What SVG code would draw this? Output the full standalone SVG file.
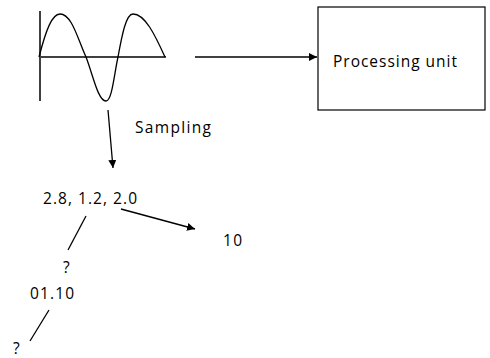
<svg xmlns="http://www.w3.org/2000/svg" width="490" height="358" viewBox="0 0 490 358">
  <style>
    .ln { stroke: #000; stroke-width: 1.3; fill: none; }
    .ax { stroke: #404040; stroke-width: 2; fill: none; }
    .tx { font-family: "Open Sans", "Liberation Sans", sans-serif; font-size: 15.5px; fill: #000; }
  </style>
  <defs>
    <marker id="ah" viewBox="0 0 10 10" refX="10" refY="5" markerWidth="8" markerHeight="8" markerUnits="userSpaceOnUse" orient="auto">
      <path d="M0,0 L10,5 L0,10 Z" fill="#000"/>
    </marker>
  </defs>

  <g id="signal">
    <line class="ax" x1="40" y1="11" x2="40" y2="101"/>
    <line class="ax" x1="39" y1="57" x2="166" y2="57"/>
    <path class="ln" d="M39,57 C46,30 52,14 60,14 C72,14 78,40 86,57 C93,75 98,101 106,101 C112,101 114,75 118,57 C122,35 126,14 133,14 C145,14 155,35 165,57"/>
  </g>

  <g id="processing-unit">
    <rect x="318" y="7" width="167" height="103" fill="#fff" stroke="#000" stroke-width="1.2"/>
    <text class="tx" x="333" y="67" textLength="124" lengthAdjust="spacing">Processing unit</text>
  </g>

  <g id="samples">
    <text class="tx" x="43" y="204" textLength="94" lengthAdjust="spacing">2.8, 1.2, 2.0</text>
  </g>
  <g id="code-10">
    <text class="tx" x="223" y="246" textLength="19" lengthAdjust="spacing">10</text>
  </g>
  <g id="q1">
    <text class="tx" x="63" y="273">?</text>
  </g>
  <g id="code-0110">
    <text class="tx" x="30" y="299" textLength="44" lengthAdjust="spacing">01.10</text>
  </g>
  <g id="q2">
    <text class="tx" x="13" y="354">?</text>
  </g>
  <g id="sampling-label">
    <text class="tx" x="135" y="133" textLength="76" lengthAdjust="spacing">Sampling</text>
  </g>

  <g id="connectors">
    <line class="ln" x1="195" y1="57" x2="317" y2="57" marker-end="url(#ah)"/>
    <line class="ln" x1="108" y1="110" x2="113" y2="168" marker-end="url(#ah)"/>
    <line class="ln" x1="121" y1="209" x2="195" y2="229" marker-end="url(#ah)"/>
    <line class="ln" x1="86" y1="216" x2="68" y2="250"/>
    <line class="ln" x1="49" y1="310" x2="30" y2="341"/>
  </g>
</svg>
